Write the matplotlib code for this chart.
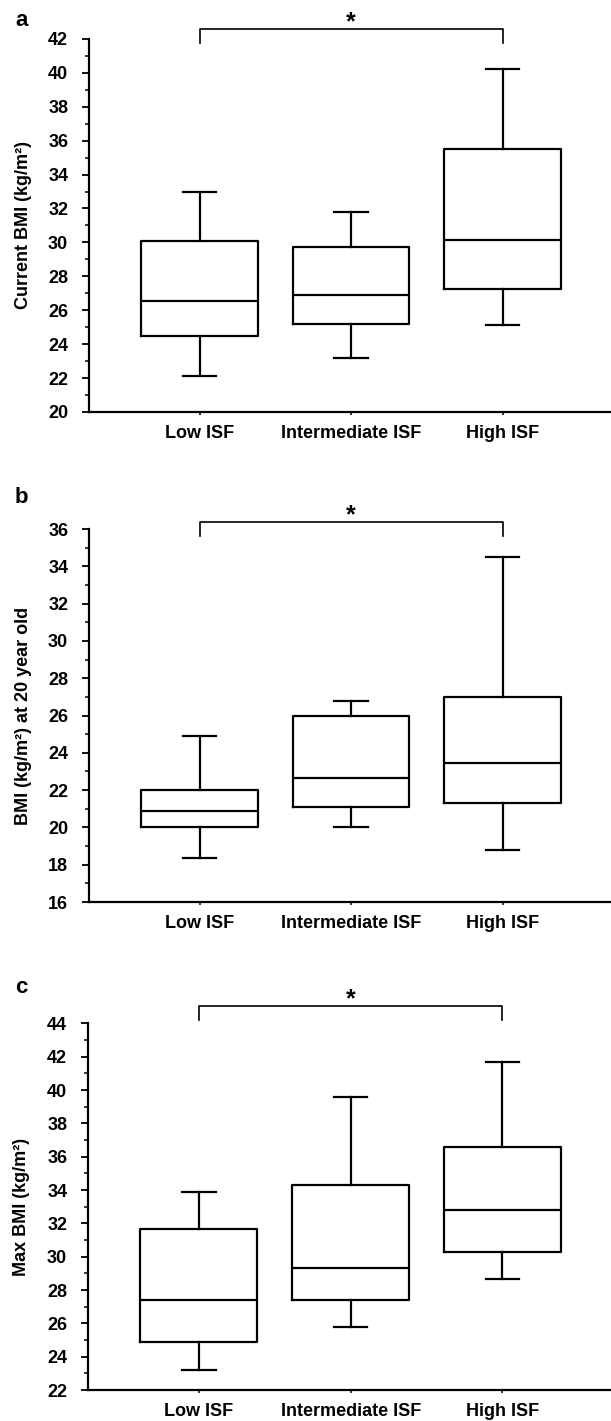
import matplotlib
matplotlib.use('Agg')
import matplotlib.pyplot as plt
from matplotlib.ticker import MultipleLocator

plt.rcParams['font.family'] = ['Liberation Sans', 'DejaVu Sans']
plt.rcParams['font.weight'] = 'bold'

groups = ['Low ISF', 'Intermediate ISF', 'High ISF']

# panel a - current BMI
a_whislo = [22.1, 23.2, 25.1]
a_q1 = [24.5, 25.2, 27.25]
a_med = [26.55, 26.9, 30.15]
a_q3 = [30.1, 29.75, 35.5]
a_whishi = [33.0, 31.8, 40.2]

# panel b - BMI at 20
b_whislo = [18.35, 20.0, 18.8]
b_q1 = [20.0, 21.1, 21.3]
b_med = [20.9, 22.65, 23.45]
b_q3 = [22.0, 25.95, 27.0]
b_whishi = [24.9, 26.8, 34.5]

# panel c - max BMI
c_whislo = [23.2, 25.8, 28.65]
c_q1 = [24.9, 27.4, 30.3]
c_med = [27.4, 29.3, 32.8]
c_q3 = [31.65, 34.3, 36.6]
c_whishi = [33.9, 39.6, 41.7]

panels = [
    ('a', 'Current BMI (kg/m²)', (20, 42), (a_whislo, a_q1, a_med, a_q3, a_whishi), 42.57, 0.8),
    ('b', 'BMI (kg/m²) at 20 year old', (16, 36), (b_whislo, b_q1, b_med, b_q3, b_whishi), 36.36, 0.75),
    ('c', 'Max BMI (kg/m²)', (22, 44), (c_whislo, c_q1, c_med, c_q3, c_whishi), 45.02, 0.82),
]

# axes boxes in figure fraction (left, bottom, width, height)
rects = [
    (0.1457, 0.7101, 0.8543, 0.2625),
    (0.1457, 0.3652, 0.8543, 0.2625),
    (0.1440, 0.0218, 0.8560, 0.2580),
]
label_y = [26, 503, 993]  # pixel baselines of panel letters

fig = plt.figure(figsize=(6.11, 14.21), dpi=100)

for (letter, ylab, ylim, st, br_y, br_drop), rect, ly in zip(panels, rects, label_y):
    ax = fig.add_axes(rect)
    stats = []
    for i in range(len(groups)):
        stats.append({'whislo': st[0][i], 'q1': st[1][i], 'med': st[2][i],
                      'q3': st[3][i], 'whishi': st[4][i], 'fliers': []})
    lp = dict(color='black', linewidth=1.6)
    ax.bxp(stats, positions=[1, 2, 3], widths=0.77, showfliers=False,
           boxprops=lp, medianprops=lp, whiskerprops=lp, capprops=lp,
           capwidths=0.22)
    ax.set_xlim(0.27, 3.715)
    ax.set_ylim(*ylim)
    ax.set_xticks([1, 2, 3])
    ax.set_xticklabels(groups, fontsize=13, fontweight='bold')
    ax.yaxis.set_major_locator(MultipleLocator(2))
    ax.yaxis.set_minor_locator(MultipleLocator(1))
    for t in ax.get_yticklabels():
        t.set_fontweight('bold')
    ax.tick_params(axis='y', which='major', length=5, width=1.3, labelsize=13, pad=10)
    ax.tick_params(axis='y', which='minor', length=3, width=1.1)
    ax.tick_params(axis='x', length=2.5, width=1.1, pad=7)
    ax.spines['top'].set_visible(False)
    ax.spines['right'].set_visible(False)
    ax.spines['left'].set_linewidth(1.6)
    ax.spines['bottom'].set_linewidth(1.6)
    ax.set_ylabel(ylab, fontsize=13, fontweight='bold')
    ax.yaxis.set_label_coords(-0.11, 0.5)

    # significance bracket Low vs High
    ax.plot([1, 1, 3, 3], [br_y - br_drop, br_y, br_y, br_y - br_drop],
            color='black', linewidth=1.2, clip_on=False)
    ax.text(2, br_y, '*', ha='center', va='baseline', fontsize=18,
            fontweight='bold')

    fig.text(15 / 611, 1 - ly / 1421, letter, fontsize=16, fontweight='bold',
             ha='left', va='baseline')

fig.savefig('out.png', dpi=100)
